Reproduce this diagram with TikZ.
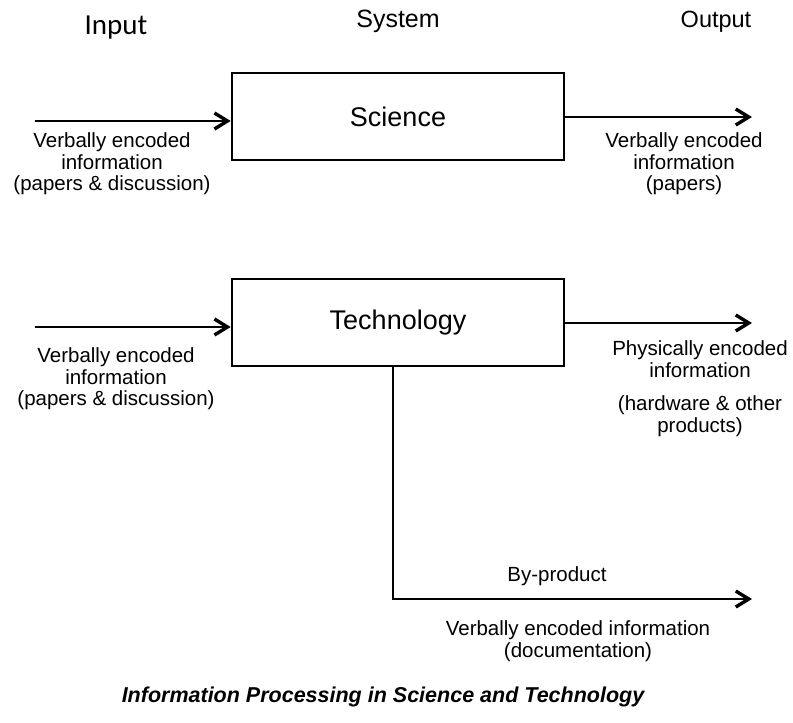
\documentclass[tikz,border=0pt]{standalone}
\usepackage{fontspec}
\setmainfont{Liberation Sans}
\newfontfamily\headfont{Carlito}
\usetikzlibrary{arrows.meta}
\begin{document}
\begin{tikzpicture}[x=1pt,y=-1pt,
  flow/.style={line width=2.6pt,
    -{Straight Barb[length=13pt,width=16pt,line width=3.4pt]}},
  sysbox/.style={draw,line width=2.6pt,minimum width=332pt,minimum height=87pt,
    inner sep=0pt,font=\fontsize{27}{30}\selectfont},
  colhead/.style={font=\fontsize{25}{28}\selectfont,anchor=base},
  lbl/.style={align=center,inner sep=0pt,font=\fontsize{20.5}{21.5}\selectfont},
  caption/.style={font=\fontsize{21.5}{24}\selectfont\bfseries\itshape}]
  \useasboundingbox (0,0) rectangle (793,723);

  % column headings
  \node[colhead,font=\headfont\fontsize{29}{31}\selectfont] (hin) at (116,34) {Input};
  \node[colhead] (hsys) at (398,27) {System};
  \node[colhead,font=\fontsize{23.5}{26}\selectfont] (hout) at (716,27) {Output};

  % the two systems
  \node[sysbox] (sci) at (398,116.5) {Science};
  \node[sysbox] (tech) at (398,322.5) {Technology};

  % science: input and output
  \coordinate (sciIn) at (35,121);
  \coordinate (sciOut) at (752,117);
  \draw[flow] (sciIn) -- (sciIn -| sci.west);
  \draw[flow] (sciOut -| sci.east) -- (sciOut);
  \node[lbl] (sciInL) at (112,164) {Verbally encoded\\information\\(papers \& discussion)};
  \node[lbl] (sciOutL) at (684,164) {Verbally encoded\\information\\(papers)};

  % technology: input and output
  \coordinate (techIn) at (35,327);
  \coordinate (techOut) at (752,323);
  \draw[flow] (techIn) -- (techIn -| tech.west);
  \draw[flow] (techOut -| tech.east) -- (techOut);
  \node[lbl] (techInL) at (116,379) {Verbally encoded\\information\\(papers \& discussion)};
  \node[lbl] (techOutL) at (700,359) {Physically encoded\\information};
  \node[lbl] (techOutP) at (700,416) {(hardware \& other\\products)};

  % technology: by-product
  \coordinate (byOut) at (752,599);
  \draw[flow] ([xshift=-5pt]tech.south) |- (byOut);
  \node[lbl] (byL) at (557,576) {By-product};
  \node[lbl] (byDoc) at (578,641) {Verbally encoded information\\(documentation)};

  % caption
  \node[caption] (cap) at (383,697) {Information Processing in Science and Technology};
\end{tikzpicture}
\end{document}
